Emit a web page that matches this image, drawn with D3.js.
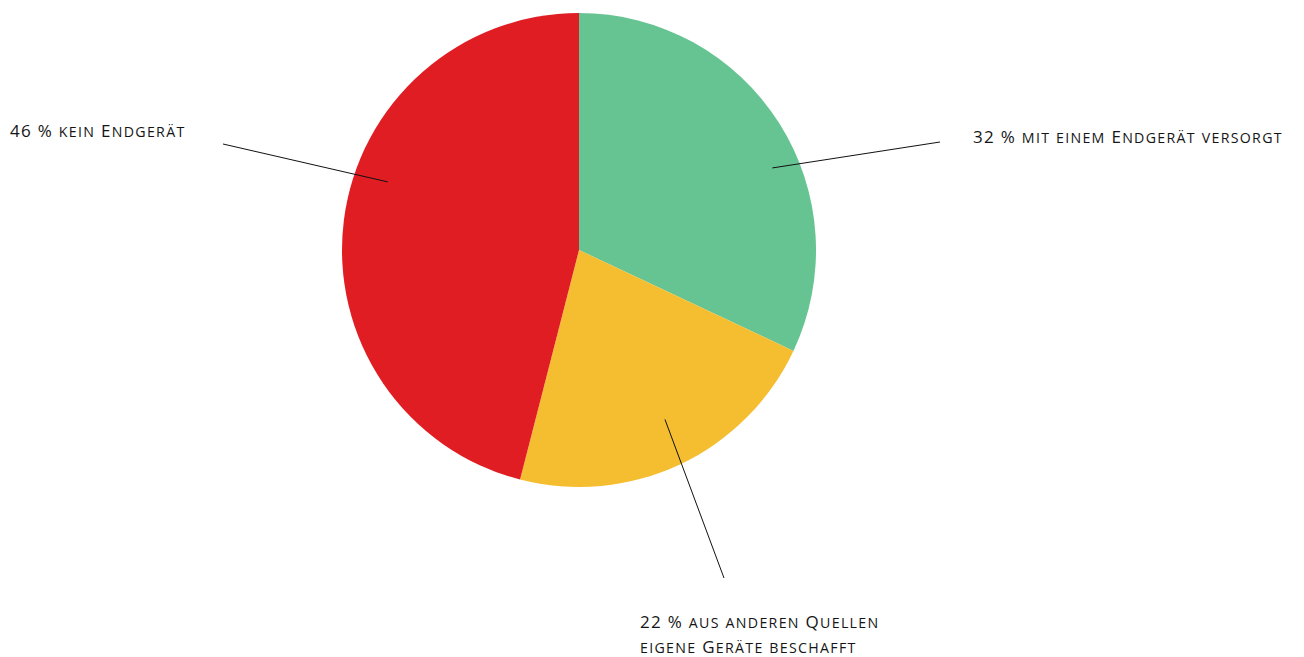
<!DOCTYPE html>
<html>
<head>
<meta charset="utf-8">
<script src="https://cdn.jsdelivr.net/npm/d3@7"></script>
<style>
  body { margin: 0; background: #fff; }
  svg { display: block; }
  .label { font-family: "Open Sans", sans-serif; font-size: 17px; font-weight: 500; letter-spacing: 1.3px; fill: #151515; }
  .label .sc { font-size: 14.2px; text-transform: uppercase; }
</style>
</head>
<body>
<svg id="chart" width="1304" height="657"></svg>
<script>
// Anteile in Prozent, im Uhrzeigersinn ab 12 Uhr
const categories = ['mit einem Endgerät versorgt', 'aus anderen Quellen eigene Geräte beschafft', 'kein Endgerät']
const values = [32, 22, 46]
const labelLines = [
  ['32 % mit einem Endgerät versorgt'],
  ['22 % aus anderen Quellen', 'eigene Geräte beschafft'],
  ['46 % kein Endgerät']
]
const colors = ['#66c492', '#f5bd30', '#e11d24']

// Layout der Beschriftungen (Winkelversatz zur Segmentmitte, Abstand, Endpunkt)
const leaderAngleOffset = [9.4, -1.7, 12.4]
const leaderRadius = [210, 190, 203]
const leaderEnd = [[940, 142], [724, 578], [223, 144]]
const labelPos = [[973, 143], [640, 628], [10, 137]]
const lineHeight = 25

const cx = 579
const cy = 250
const radius = 237

const svg = d3.select('#chart')
const data = values.map((v, i) => ({ name: categories[i], value: v, i }))

const pie = d3.pie().value(d => d.value).sort(null)
const arc = d3.arc().innerRadius(0).outerRadius(radius)
const arcs = pie(data)

const g = svg.append('g').attr('transform', `translate(${cx},${cy})`)

g.selectAll('path.slice')
  .data(arcs)
  .enter()
  .append('path')
  .attr('class', 'slice')
  .attr('d', arc)
  .attr('fill', d => colors[d.data.i])

const leaderStart = d => {
  const a = (d.startAngle + d.endAngle) / 2 + leaderAngleOffset[d.data.i] * Math.PI / 180
  return [Math.sin(a) * leaderRadius[d.data.i], -Math.cos(a) * leaderRadius[d.data.i]]
}

// Hinweislinien
g.selectAll('line.leader')
  .data(arcs)
  .enter()
  .append('line')
  .attr('class', 'leader')
  .attr('x1', d => leaderStart(d)[0])
  .attr('y1', d => leaderStart(d)[1])
  .attr('x2', d => leaderEnd[d.data.i][0] - cx)
  .attr('y2', d => leaderEnd[d.data.i][1] - cy)
  .attr('stroke', '#111')
  .attr('stroke-width', 1)

// Kapitälchen: Kleinbuchstaben als kleinere Großbuchstaben
const splitRuns = t => t.split(/([a-zäöüß]+)/).filter(s => s.length).map(s => ({ s, sc: /[a-zäöüß]/.test(s) }))

const labels = svg.selectAll('text.label')
  .data(arcs)
  .enter()
  .append('text')
  .attr('class', 'label')
  .attr('x', d => labelPos[d.data.i][0])
  .attr('y', d => labelPos[d.data.i][1])

const lines = labels.selectAll('tspan.line')
  .data(d => labelLines[d.data.i].map(t => ({ t, x: labelPos[d.data.i][0] })))
  .enter()
  .append('tspan')
  .attr('class', 'line')
  .attr('x', d => d.x)
  .attr('dy', (d, j) => j === 0 ? 0 : lineHeight)

lines.selectAll('tspan')
  .data(d => splitRuns(d.t))
  .enter()
  .append('tspan')
  .attr('class', d => d.sc ? 'sc' : null)
  .text(d => d.s)
</script>
</body>
</html>
